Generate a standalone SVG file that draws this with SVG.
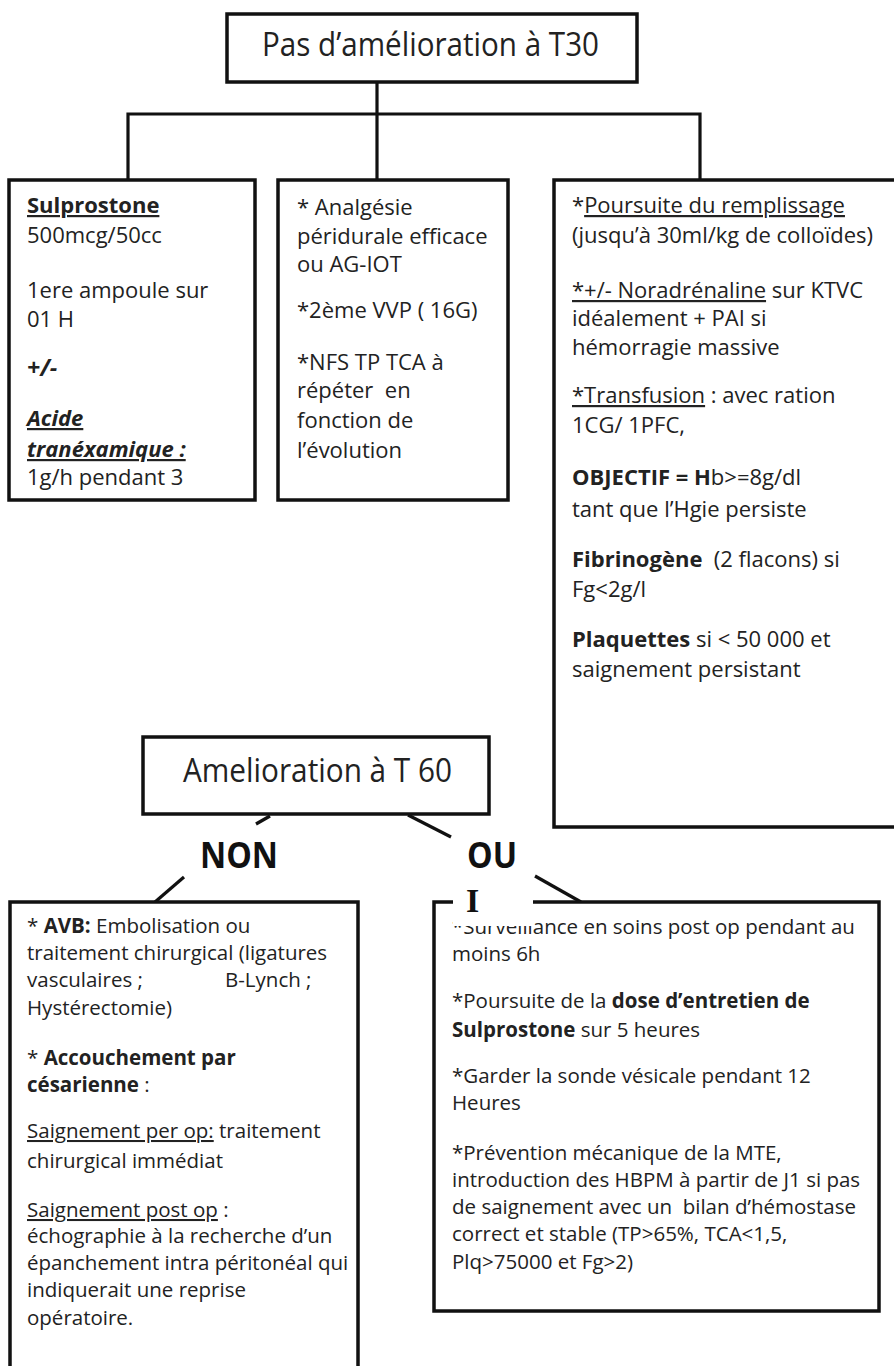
<svg xmlns="http://www.w3.org/2000/svg" width="894" height="1366" viewBox="0 0 894 1366">
<style>
.bx{fill:#fff;stroke:#111;stroke-width:3.5}
.cn{fill:none;stroke:#111;stroke-width:3.2}
text{font-family:"Open Sans","Noto Sans","DejaVu Sans",sans-serif;fill:#222}
.t{font-size:22px}
.s{font-size:20.5px}
.b{font-weight:bold}
.i{font-style:italic}
.u{text-decoration:underline}
.ttl{font-size:32px}
.lbl{font-size:35px;font-weight:bold;fill:#111}
</style>
<rect x="0" y="0" width="894" height="1366" fill="#fff"/>

<g id="connectors">
<path class="cn" d="M377 82 V180 M128 180 V114 H700 V180"/>
<path class="cn" d="M270 816 L256 824"/>
<path class="cn" d="M408 815 L451 837"/>
<path class="cn" d="M184 877 L155 902"/>
<path class="cn" d="M535 876 L581 902"/>
</g>

<g id="n-t30">
<rect class="bx" x="227" y="14" width="410" height="68"/>
<text class="ttl" x="262" y="56" textLength="337" lengthAdjust="spacingAndGlyphs">Pas d’amélioration à T30</text>
</g>

<g id="n-sulprostone">
<rect class="bx" x="9" y="180" width="246" height="320"/>
<text class="t" x="27" y="213"><tspan class="b u">Sulprostone</tspan></text>
<text class="t" x="27" y="243">500mcg/50cc</text>
<text class="t" x="27" y="298">1ere ampoule sur</text>
<text class="t" x="27" y="327">01 H</text>
<text class="t b i" x="27" y="376" style="font-size:23px">+/-</text>
<text class="t b i u" x="27" y="426">Acide</text>
<text class="t b i u" x="27" y="457">tranéxamique :</text>
<text class="t" x="27" y="485">1g/h pendant 3</text>
</g>

<g id="n-analgesie">
<rect class="bx" x="278" y="180" width="230" height="320"/>
<text class="t" x="297" y="215">* Analgésie</text>
<text class="t" x="297" y="244">péridurale efficace</text>
<text class="t" x="297" y="272">ou AG-IOT</text>
<text class="t" x="297" y="318">*2ème VVP ( 16G)</text>
<text class="t" x="297" y="370">*NFS TP TCA à</text>
<text class="t" x="297" y="398" xml:space="preserve">répéter  en</text>
<text class="t" x="297" y="428">fonction de</text>
<text class="t" x="297" y="458">l’évolution</text>
</g>

<g id="n-remplissage">
<rect class="bx" x="554" y="180" width="352" height="647"/>
<text class="t" x="572" y="213">*<tspan class="u">Poursuite du remplissage</tspan></text>
<text class="t" x="572" y="243">(jusqu’à 30ml/kg de colloïdes)</text>
<text class="t" x="572" y="298"><tspan class="u">*+/- Noradrénaline</tspan> sur KTVC</text>
<text class="t" x="572" y="326">idéalement + PAI si</text>
<text class="t" x="572" y="355">hémorragie massive</text>
<text class="t" x="572" y="403"><tspan class="u">*Transfusion</tspan> : avec ration</text>
<text class="t" x="572" y="433">1CG/ 1PFC,</text>
<text class="t" x="572" y="485"><tspan class="b">OBJECTIF = H</tspan>b&gt;=8g/dl</text>
<text class="t" x="572" y="517">tant que l’Hgie persiste</text>
<text class="t" x="572" y="567" xml:space="preserve"><tspan class="b">Fibrinogène</tspan>  (2 flacons) si</text>
<text class="t" x="572" y="597">Fg&lt;2g/l</text>
<text class="t" x="572" y="647" xml:space="preserve"><tspan class="b">Plaquettes</tspan> si &lt; 50 000 et</text>
<text class="t" x="572" y="677">saignement persistant</text>
</g>

<g id="n-t60">
<rect class="bx" x="143" y="737" width="346" height="77"/>
<text class="ttl" x="183" y="782" textLength="269" lengthAdjust="spacingAndGlyphs">Amelioration à T 60</text>
</g>

<g id="lbl-non">
<text class="lbl" x="200" y="868" textLength="78" lengthAdjust="spacingAndGlyphs">NON</text>
</g>

<g id="n-non">
<rect class="bx" x="10" y="902" width="348" height="520"/>
<text class="s" x="27" y="933" xml:space="preserve">* <tspan class="b">AVB:</tspan> Embolisation ou</text>
<text class="s" x="27" y="960">traitement chirurgical (ligatures</text>
<text class="s" x="27" y="987">vasculaires ;<tspan x="225">B-Lynch ;</tspan></text>
<text class="s" x="27" y="1015">Hystérectomie)</text>
<text class="s" x="27" y="1065" xml:space="preserve">* <tspan class="b">Accouchement par</tspan></text>
<text class="s" x="27" y="1092" xml:space="preserve"><tspan class="b">césarienne</tspan> :</text>
<text class="s" x="27" y="1138"><tspan class="u">Saignement per op:</tspan> traitement</text>
<text class="s" x="27" y="1168">chirurgical immédiat</text>
<text class="s" x="27" y="1217"><tspan class="u">Saignement post op</tspan> :</text>
<text class="s" x="27" y="1243">échographie à la recherche d’un</text>
<text class="s" x="27" y="1270">épanchement intra péritonéal qui</text>
<text class="s" x="27" y="1297">indiquerait une reprise</text>
<text class="s" x="27" y="1325">opératoire.</text>
</g>

<g id="n-oui">
<rect class="bx" x="434" y="902" width="445" height="409"/>
<text class="s" x="452" y="934">*Surveillance en soins post op pendant au</text>
<text class="s" x="452" y="961">moins 6h</text>
<text class="s" x="452" y="1008" xml:space="preserve">*Poursuite de la <tspan class="b">dose d’entretien de</tspan></text>
<text class="s" x="452" y="1037" xml:space="preserve"><tspan class="b">Sulprostone</tspan> sur 5 heures</text>
<text class="s" x="452" y="1083">*Garder la sonde vésicale pendant 12</text>
<text class="s" x="452" y="1110">Heures</text>
<text class="s" x="452" y="1160">*Prévention mécanique de la MTE,</text>
<text class="s" x="452" y="1187">introduction des HBPM à partir de J1 si pas</text>
<text class="s" x="452" y="1214" xml:space="preserve">de saignement avec un  bilan d’hémostase</text>
<text class="s" x="452" y="1241">correct et stable (TP&gt;65%, TCA&lt;1,5,</text>
<text class="s" x="452" y="1269">Plq&gt;75000 et Fg&gt;2)</text>
</g>

<g id="lbl-oui">
<rect x="453" y="838" width="80" height="88" fill="#fff"/>
<text class="lbl" x="467" y="868" textLength="50" lengthAdjust="spacingAndGlyphs">OU</text>
<text x="466" y="912" style="font-family:'Liberation Serif',serif;font-size:34px;font-weight:bold;fill:#111">I</text>
</g>
</svg>
